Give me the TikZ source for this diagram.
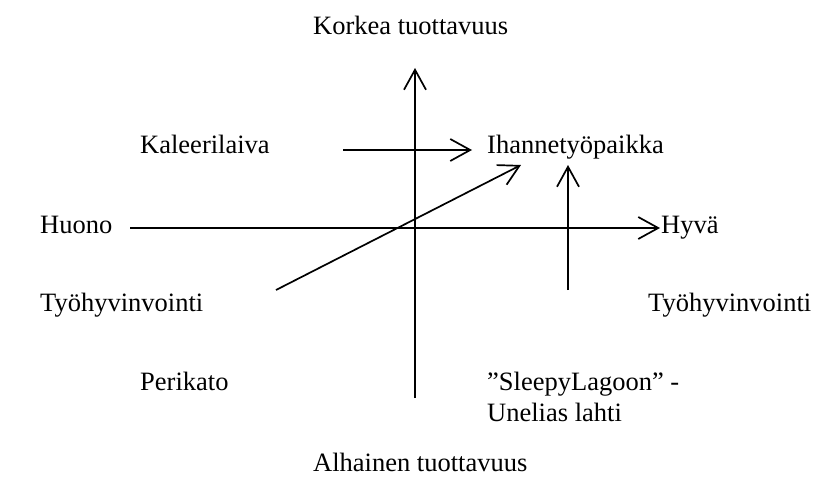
\documentclass[tikz,border=0pt]{standalone}
\usepackage{fontspec}
\setmainfont{Liberation Serif}
\usetikzlibrary{arrows.meta}
\begin{document}
\begin{tikzpicture}[x=1pt,y=-1pt,
  lbl/.style={anchor=base west,inner sep=0pt,font=\fontsize{26.5pt}{31pt}\selectfont},
  ln/.style={line width=1.7pt,line cap=butt},
  vee/.style={ln,-{Straight Barb[length=20pt,width=22pt,line width=1.7pt]}}]
\useasboundingbox (0,0) rectangle (829,484);
% labels
\node[lbl] (korkea) at (313,35) {Korkea tuottavuus};
\node[lbl] (kaleeri) at (140,153) {Kaleerilaiva};
\node[lbl] (ihanne) at (487,153) {Ihannetyöpaikka};
\node[lbl] (huono) at (40,233) {Huono};
\node[lbl] (hyva) at (661,233) {Hyvä};
\node[lbl] (tyoL) at (40,311) {Työhyvinvointi};
\node[lbl] (tyoR) at (648,311) {Työhyvinvointi};
\node[lbl] (perikato) at (140,390) {Perikato};
\node[lbl] (sleepy) at (487,390) {”SleepyLagoon” -};
\node[lbl] (unelias) at (487,421) {Unelias lahti};
\node[lbl] (alhainen) at (313,471) {Alhainen tuottavuus};
% coordinates
\coordinate (vB) at (415,398);
\coordinate (vT) at (415,68);
\coordinate (hL) at (130,228);
\coordinate (hR) at (660,228);
\coordinate (kA) at (343,150);
\coordinate (kB) at (472,150);
\coordinate (dA) at (276,290);
\coordinate (dB) at (521,165);
\coordinate (rA) at (568,290);
\coordinate (rB) at (568,165);
% arrows
\draw[vee] (vB) -- (vT);
\draw[vee] (hL) -- (hR);
\draw[vee] (kA) -- (kB);
\draw[vee] (dA) -- (dB);
\draw[vee] (rA) -- (rB);
\end{tikzpicture}
\end{document}
